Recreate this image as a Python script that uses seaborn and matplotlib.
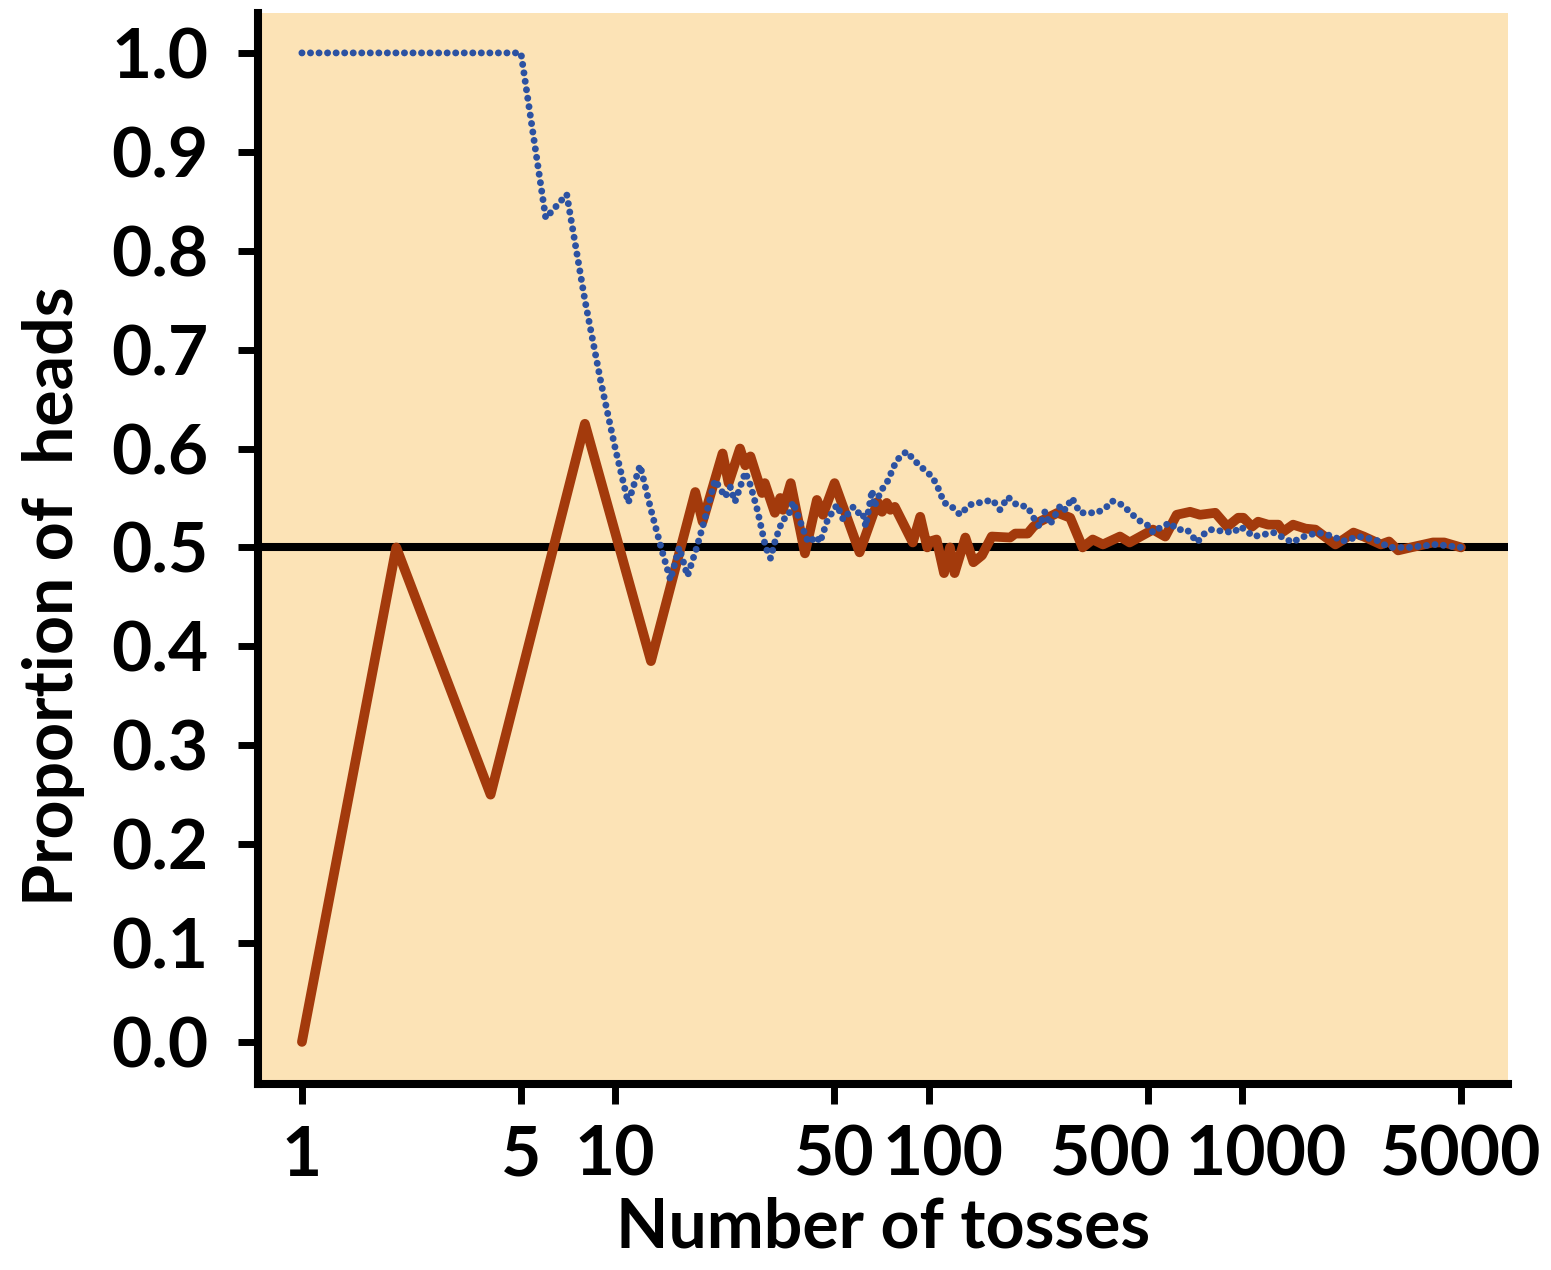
import matplotlib
matplotlib.use("Agg")
import matplotlib.pyplot as plt
import matplotlib.transforms as mtransforms
import seaborn as sns
import pandas as pd

# toss counts and running proportion of heads (10 per row)
brown_tosses = [1, 2, 4, 8, 13, 18, 19, 22, 23, 25,
                26, 27, 29.4, 30, 32.3, 33.6, 34.3, 36.3, 40.3, 44,
                46, 50.1, 60.2, 68.7, 71, 73.5, 75.5, 78, 89, 94,
                99, 101, 106, 112, 117, 121, 131, 139, 148, 159,
                182, 189, 207, 216, 226, 258, 283, 310, 334, 360,
                408, 438, 520, 569, 619, 683, 735, 822, 898, 973,
                1010, 1077, 1126, 1212, 1306, 1355, 1456, 1595, 1715, 1986,
                2107, 2270, 2446, 2776, 2946, 3150, 3460, 4070, 4420, 5000]
brown_prop = [0.0, 0.5, 0.25, 0.625, 0.385, 0.556, 0.526, 0.595, 0.565, 0.6,
              0.583, 0.592, 0.555, 0.565, 0.535, 0.55, 0.538, 0.565, 0.494, 0.548,
              0.533, 0.565, 0.495, 0.546, 0.536, 0.545, 0.538, 0.541, 0.505, 0.531,
              0.5, 0.506, 0.508, 0.474, 0.5, 0.474, 0.51, 0.485, 0.492, 0.511,
              0.51, 0.514, 0.514, 0.521, 0.526, 0.535, 0.53, 0.5, 0.508, 0.503,
              0.511, 0.505, 0.518, 0.511, 0.533, 0.536, 0.533, 0.535, 0.521, 0.53,
              0.53, 0.521, 0.526, 0.523, 0.523, 0.516, 0.523, 0.519, 0.518, 0.503,
              0.508, 0.515, 0.511, 0.503, 0.506, 0.497, 0.5, 0.505, 0.505, 0.5]

blue_tosses = [1, 2, 3, 4, 5, 6, 7, 8, 9, 10,
               11, 12, 13, 14, 15, 16, 17, 18.2, 19.4, 20.8,
               21.6, 22.4, 23.3, 24.1, 26, 27, 28.4, 30.2, 31.3, 32.4,
               34.2, 35.6, 36.9, 39.8, 41.3, 44, 45, 47.6, 51, 53.4,
               55, 57.5, 59.5, 61.5, 63, 66, 67, 70.7, 73.5, 79,
               85, 90, 95, 103, 108, 112, 117, 126, 135, 149,
               160, 169, 179, 191, 207, 218, 226, 235, 244, 264,
               273, 287, 304, 345, 370, 385, 415, 438, 465, 509,
               520, 548, 590, 619, 668, 720, 752, 795, 939, 990,
               1090, 1260, 1450, 1540, 1745, 1970, 2080, 2360, 2660, 2950,
               3420, 4160, 5000]
blue_prop = [1.0, 1.0, 1.0, 1.0, 1.0, 0.833, 0.857, 0.75, 0.667, 0.6,
             0.545, 0.583, 0.538, 0.5, 0.467, 0.5, 0.471, 0.5, 0.531, 0.568,
             0.56, 0.551, 0.561, 0.546, 0.576, 0.563, 0.538, 0.5, 0.489, 0.507,
             0.528, 0.531, 0.546, 0.518, 0.505, 0.511, 0.505, 0.528, 0.543, 0.528,
             0.533, 0.541, 0.535, 0.536, 0.521, 0.558, 0.541, 0.558, 0.565, 0.588,
             0.597, 0.588, 0.581, 0.571, 0.558, 0.545, 0.543, 0.533, 0.543, 0.546,
             0.548, 0.538, 0.551, 0.543, 0.541, 0.528, 0.521, 0.536, 0.523, 0.543,
             0.538, 0.55, 0.535, 0.535, 0.541, 0.547, 0.543, 0.536, 0.528, 0.521,
             0.515, 0.52, 0.525, 0.518, 0.518, 0.505, 0.513, 0.518, 0.515, 0.521,
             0.511, 0.515, 0.505, 0.51, 0.515, 0.511, 0.506, 0.511, 0.508, 0.5,
             0.5, 0.503, 0.5]

x_ticks = [1, 5, 10, 50, 100, 500, 1000, 5000]
y_ticks = [0.0, 0.1, 0.2, 0.3, 0.4, 0.5, 0.6, 0.7, 0.8, 0.9, 1.0]

brown_df = pd.DataFrame({"tosses": brown_tosses, "prop": brown_prop})
blue_df = pd.DataFrame({"tosses": blue_tosses, "prop": blue_prop})

sns.set_theme(style="white")
plt.rcParams["font.family"] = ["Lato", "Open Sans", "DejaVu Sans"]
plt.rcParams["font.weight"] = "bold"
plt.rcParams["text.color"] = "black"
plt.rcParams["xtick.color"] = "black"
plt.rcParams["ytick.color"] = "black"
plt.rcParams["axes.labelcolor"] = "black"

fig = plt.figure(figsize=(15.51, 12.70), dpi=100)
ax = fig.add_axes([0.1663, 0.1465, 0.806, 0.8433])
ax.set_facecolor("#fce3b6")

ax.axhline(0.5, color="black", lw=5.8, zorder=1)
sns.lineplot(data=brown_df, x="tosses", y="prop", ax=ax, color="#a33a0c", lw=7,
             sort=False, zorder=3)
sns.lineplot(data=blue_df, x="tosses", y="prop", ax=ax, color="#2c52a2", lw=5,
             sort=False, zorder=4, linestyle=(0, (0.01, 1.22)), dash_capstyle="round")

ax.set_xscale("log")
ax.set_xlim(0.7238, 7065)
ax.set_ylim(-0.0425, 1.0404)
ax.set_xticks(x_ticks)
ax.set_xticklabels([str(t) for t in x_ticks])
ax.minorticks_off()
ax.set_yticks(y_ticks)
ax.set_yticklabels([f"{t:.1f}" for t in y_ticks])

for side in ["top", "right"]:
    ax.spines[side].set_visible(False)
for side in ["left", "bottom"]:
    ax.spines[side].set_color("black")
    ax.spines[side].set_linewidth(5.8)

ax.tick_params(axis="both", which="major", direction="out", length=14.5, width=5,
               color="black", labelsize=50, left=True, bottom=True)
ax.tick_params(axis="y", pad=21)
ax.tick_params(axis="x", pad=15)
for lab in ax.get_xticklabels() + ax.get_yticklabels():
    lab.set_fontweight("bold")

# the original nudges some crowded x labels sideways (pixels)
nudges = {100: 14, 500: -37, 1000: 24}
for t, lab in zip(x_ticks, ax.get_xticklabels()):
    if t in nudges:
        shift = mtransforms.ScaledTranslation(nudges[t] / 100, 0, fig.dpi_scale_trans)
        lab.set_transform(lab.get_transform() + shift)

ax.set_xlabel("Number of tosses", fontsize=49, fontweight="bold", labelpad=6)
ax.set_ylabel("Proportion of  heads", fontsize=49, fontweight="bold")
ax.yaxis.set_label_coords(-0.138, 0.455)

fig.savefig("out.png", dpi=100, facecolor="white")
